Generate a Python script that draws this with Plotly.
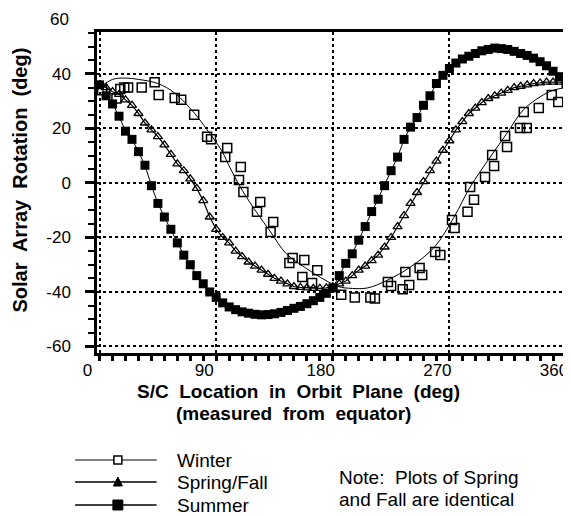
import plotly.graph_objects as go

# ---------------- data ----------------
grid_deg = [0, 5, 10, 15, 20, 25, 30, 35, 40, 45, 50, 55, 60, 65, 70, 75, 80, 85, 90,
            95, 100, 105, 110, 115, 120, 125, 130, 135, 140, 145, 150, 155, 160, 165, 170, 175, 180,
            185, 190, 195, 200, 205, 210, 215, 220, 225, 230, 235, 240, 245, 250, 255, 260, 265, 270,
            275, 280, 285, 290, 295, 300, 305, 310, 315, 320, 325, 330, 335, 340, 345, 350, 355, 360]

summer_val = [36, 32, 29, 24.5, 19, 16, 11.5, 6.5, -1, -7.5, -12.5, -17, -22, -26.5, -30, -34, -37, -40, -42,
              -44, -45.5, -46.5, -47.3, -47.8, -48.2, -48.4, -48.3, -48, -47.5, -46.8, -46, -45.3, -44.3, -43.2, -42, -40.5, -38.5,
              -34, -29.5, -26, -21, -16, -10.5, -6, -1, 4.5, 9.5, 16, 20.5, 24, 28.5, 32, 36.5, 39.5, 42,
              44, 45.5, 46.5, 47.5, 48.5, 49, 49.5, 49.3, 49, 48.3, 47.5, 46.8, 45.8, 44.5, 43, 41, 39, 36.5]

spring_val = [36, 35, 33.5, 32.5, 30.5, 28.5, 25.5, 22, 19.5, 17, 14, 10.5, 7, 4.5, 1.5, -2, -6.5, -12.5, -17,
              -20, -22, -25, -27, -29, -30.5, -32, -33.5, -35, -36, -37, -38, -38.3, -38.5, -38.7, -38.7, -38.5, -38,
              -37, -36, -34, -32, -30.5, -28.5, -26.5, -23.5, -20, -16, -12, -7.5, -3.5, 0.5, 4.5, 8, 12, 15.5,
              19.5, 22.5, 25.5, 27.5, 29.5, 31, 32, 33, 34, 35, 35.5, 36, 36.5, 36.7, 37, 37, 37, 37]

winter_fit_deg = [0, 10, 20, 30, 45, 58, 73, 83, 94, 101.5, 110, 121.5, 132, 143.6, 159, 174,
                  184, 195, 207, 222.5, 240, 258.5, 273.6, 286, 301.5, 314.5, 327, 340, 350, 360]
winter_fit_val = [35, 38, 38.5, 38, 36.5, 33, 25.7, 19.5, 12, 4.8, -2.6, -11, -18, -25.7, -31.2, -35.6,
                  -38, -38.7, -38.5, -35.6, -30.8, -23.5, -12.5, -1.5, 9.5, 18.3, 26.8, 31.6, 34, 35]

winter_obs_deg = [2, 13, 16, 19, 22, 32.5, 42.5, 45.6, 58, 63, 73, 83, 86, 97, 98.5, 107.6, 109, 111,
                  121.5, 124, 132, 134, 146.5, 149, 156.5, 158, 164, 168, 186.5, 197, 209, 212.5,
                  222.5, 225, 234, 236, 239, 247, 249, 259, 263, 272, 274, 284, 286, 289, 297.5,
                  303, 304.5, 313, 314.5, 324.5, 327.4, 329.7, 339, 349, 354]
winter_obs_val = [34, 31, 34.5, 35, 35, 35, 37, 32.3, 31.2, 30.5, 25, 17, 16, 9.5, 12.8, 1.1, 5.9, -3.3,
                  -10.6, -7, -18, -14.3, -29.4, -27.5, -34.5, -28.3, -36.7, -32, -41, -42, -42, -42.4,
                  -36.3, -37.8, -39, -32.7, -37.4, -31.2, -33.8, -25.3, -26.4, -13.6, -16.5, -10.6, -1.5, -6.2, 2.2,
                  10.3, 6.2, 17.2, 13.2, 20.2, 26, 20.2, 27.5, 32.3, 29.7]

x_tick_vals = [0, 90, 180, 270, 360]
x_tick_text = ["0", "90", "180", "270", "360"]
y_tick_vals = [-60, -40, -20, 0, 20, 40]
y_tick_text = ["-60", "-40", "-20", "0", "20", "40"]
y_top_label = 60

series_names = ["Winter", "Spring/Fall", "Summer"]
note_lines = ["Note:  Plots of Spring", "and Fall are identical"]

# ---------------- layout geometry ----------------
PAGE = 8                      # default body margin of the html page
W, H = 571 - PAGE, 516 - PAGE
L, R, T, B = 97 - PAGE, 2, 32 - PAGE, 163
PW, PH = W - L - R, H - T - B
X_RANGE = [-2, 360]
Y_RANGE = [-62.4, 55.4]


def px(xp):
    """window pixel x -> paper x"""
    return (xp - PAGE - L) / PW


def py(yp):
    """window pixel y -> paper y"""
    return (H - B - (yp - PAGE)) / PH


FONT = "Liberation Sans, Arial, sans-serif"

fig = go.Figure()

fig.add_trace(go.Scatter(x=winter_fit_deg, y=winter_fit_val, mode="lines",
                         line=dict(color="black", width=1, shape="spline", smoothing=1),
                         showlegend=False, hoverinfo="skip"))
fig.add_trace(go.Scatter(x=winter_obs_deg, y=winter_obs_val, mode="markers",
                         marker=dict(symbol="square-open", size=9, color="black",
                                     line=dict(width=1.5, color="black")),
                         showlegend=False, cliponaxis=False))
fig.add_trace(go.Scatter(x=grid_deg, y=spring_val, mode="lines+markers",
                         line=dict(color="black", width=1.2),
                         marker=dict(symbol="triangle-up-open", size=8, color="black",
                                     line=dict(width=1.3, color="black")),
                         showlegend=False, cliponaxis=False))
fig.add_trace(go.Scatter(x=grid_deg, y=summer_val, mode="lines+markers",
                         line=dict(color="black", width=1),
                         marker=dict(symbol="square", size=9, color="black"),
                         showlegend=False, cliponaxis=False))

axis_common = dict(showline=True, linecolor="black", linewidth=2.5, mirror=True,
                   showgrid=True, gridcolor="black", gridwidth=1.6, griddash="dot",
                   zeroline=False, ticks="outside", tickcolor="black",
                   tickfont=dict(family=FONT, size=17, color="black"))

fig.update_xaxes(range=X_RANGE, tickvals=x_tick_vals, ticktext=x_tick_text,
                 ticklen=5, tickwidth=3, ticklabelshift=-12, ticklabelstandoff=-5,
                 minor=dict(dtick=10, tick0=0, ticks="outside", ticklen=5, tickwidth=3,
                            tickcolor="black", showgrid=False),
                 **axis_common)
fig.update_yaxes(range=Y_RANGE, tickvals=y_tick_vals, ticktext=y_tick_text,
                 ticklen=9, tickwidth=3, ticklabelstandoff=11,
                 minor=dict(dtick=5, tick0=0, ticks="outside", ticklen=6, tickwidth=2,
                            tickcolor="black", showgrid=False),
                 **axis_common)

annotations = []
# "60" label above the frame
annotations.append(dict(text=str(y_top_label), xref="paper", yref="paper",
                        x=px(71), y=(y_top_label - Y_RANGE[0]) / (Y_RANGE[1] - Y_RANGE[0]),
                        xanchor="right", yanchor="middle", showarrow=False,
                        font=dict(family=FONT, size=17, color="black")))
# axis titles
annotations.append(dict(text="S/C  Location  in  Orbit  Plane  (deg)", xref="paper", yref="paper",
                        x=px(300), y=py(392), xanchor="center", yanchor="middle", showarrow=False,
                        font=dict(family=FONT, size=19, color="black", weight="bold")))
annotations.append(dict(text="(measured  from  equator)", xref="paper", yref="paper",
                        x=px(295), y=py(414), xanchor="center", yanchor="middle", showarrow=False,
                        font=dict(family=FONT, size=19, color="black", weight="bold")))
annotations.append(dict(text="Solar  Array  Rotation  (deg)", xref="paper", yref="paper",
                        x=px(20), y=py(180), xanchor="center", yanchor="middle", showarrow=False,
                        textangle=-90,
                        font=dict(family=FONT, size=20, color="black", weight="bold")))

# manual legend
rows = [460, 482, 505]
shapes = []
for i, (name, ry) in enumerate(zip(series_names, rows)):
    shapes.append(dict(type="line", xref="paper", yref="paper", x0=px(75), x1=px(157),
                       y0=py(ry), y1=py(ry), line=dict(color="black", width=1 if i == 0 else 1.5)))
    annotations.append(dict(text=name, xref="paper", yref="paper", x=px(176), y=py(ry),
                            xanchor="left", yanchor="middle", showarrow=False,
                            font=dict(family=FONT, size=19, color="black")))
# legend markers
shapes.append(dict(type="rect", xref="paper", yref="paper", x0=px(114), x1=px(122),
                   y0=py(464), y1=py(456), fillcolor="white", line=dict(color="black", width=1.5)))
shapes.append(dict(type="path", xref="paper", yref="paper",
                   path=f"M {px(113.5)} {py(486)} L {px(122.5)} {py(486)} L {px(118)} {py(477)} Z",
                   fillcolor="black", line=dict(color="black", width=1)))
shapes.append(dict(type="rect", xref="paper", yref="paper", x0=px(113), x1=px(123),
                   y0=py(510), y1=py(500), fillcolor="black", line=dict(color="black", width=1)))

for txt, ry in zip(note_lines, [477, 499]):
    annotations.append(dict(text=txt, xref="paper", yref="paper", x=px(339), y=py(ry),
                            xanchor="left", yanchor="middle", showarrow=False,
                            font=dict(family=FONT, size=19, color="black")))

fig.update_layout(width=W, height=H, margin=dict(l=L, r=R, t=T, b=B, pad=0),
                  paper_bgcolor="white", plot_bgcolor="white", showlegend=False,
                  annotations=annotations, shapes=shapes)

fig.write_html("out.html")
